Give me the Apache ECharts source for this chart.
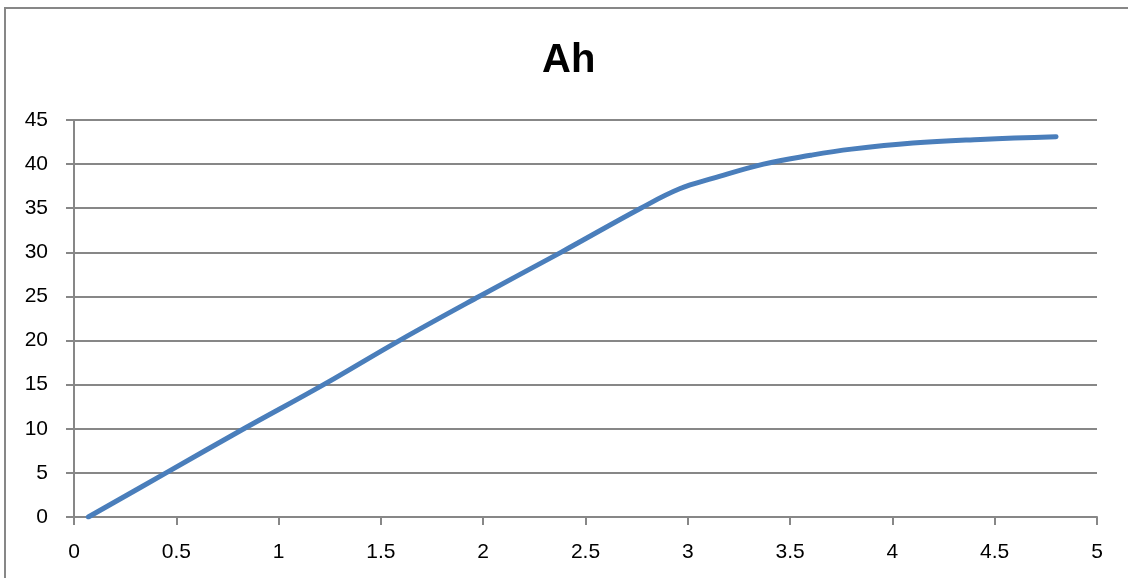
<!DOCTYPE html>
<html>
<head>
<meta charset="utf-8">
<title>Ah</title>
<script src="https://cdn.jsdelivr.net/npm/echarts@6/dist/echarts.min.js"></script>
<style>
  html, body { margin: 0; padding: 0; background: #ffffff; }
  #chart { width: 1128px; height: 578px; }
</style>
</head>
<body>
<div id="chart"></div>
<script>
// Elapsed time (x) and accumulated charge in Ah (y)
const timeValues = [0.07, 0.45, 0.83, 1.22, 1.59, 1.98, 2.38, 2.77, 2.96, 3.125, 3.37, 3.60, 3.80, 4.10, 4.43, 4.80];
const ahValues   = [0,    5,    10,   15,   20,   25,   30,   35,   37.2, 38.4,  40,   41.0, 41.7, 42.4, 42.8, 43.1];

const xTicks = { min: 0, max: 5, step: 0.5 };
const yTicks = { min: 0, max: 45, step: 5 };

const gray = '#878787';
const font = 'Liberation Sans, Arial, sans-serif';

const chart = echarts.init(document.getElementById('chart'), null, { renderer: 'canvas' });

chart.setOption({
  animation: false,
  backgroundColor: '#ffffff',
  title: {
    text: 'Ah',
    left: 542,
    top: 41,
    padding: 0,
    textStyle: { fontFamily: font, fontSize: 40, fontWeight: 'bold', color: '#000000' }
  },
  graphic: [{
    type: 'rect',
    shape: { x: 5, y: 8, width: 1140, height: 600 },
    style: { fill: 'none', stroke: gray, lineWidth: 2 },
    silent: true
  }],
  grid: { left: 74, top: 120, width: 1023, height: 397 },
  xAxis: {
    type: 'value',
    min: xTicks.min,
    max: xTicks.max,
    interval: xTicks.step,
    axisLine: { show: true, lineStyle: { color: gray, width: 2 } },
    axisTick: { show: true, length: 8, inside: false, lineStyle: { color: gray, width: 2 } },
    axisLabel: { margin: 25, color: '#000000', fontFamily: font, fontSize: 21 },
    splitLine: { show: false }
  },
  yAxis: {
    type: 'value',
    min: yTicks.min,
    max: yTicks.max,
    interval: yTicks.step,
    axisLine: { show: true, lineStyle: { color: gray, width: 2 } },
    axisTick: { show: true, length: 8, inside: false, lineStyle: { color: gray, width: 2 } },
    axisLabel: { margin: 26, color: '#000000', fontFamily: font, fontSize: 21 },
    splitLine: { show: true, lineStyle: { color: gray, width: 2 } }
  },
  series: [{
    type: 'line',
    data: timeValues.map((t, i) => [t, ahValues[i]]),
    smooth: 0.4,
    showSymbol: false,
    lineStyle: { color: '#4A7EBB', width: 5, cap: 'round', join: 'round' }
  }]
});
</script>
</body>
</html>
